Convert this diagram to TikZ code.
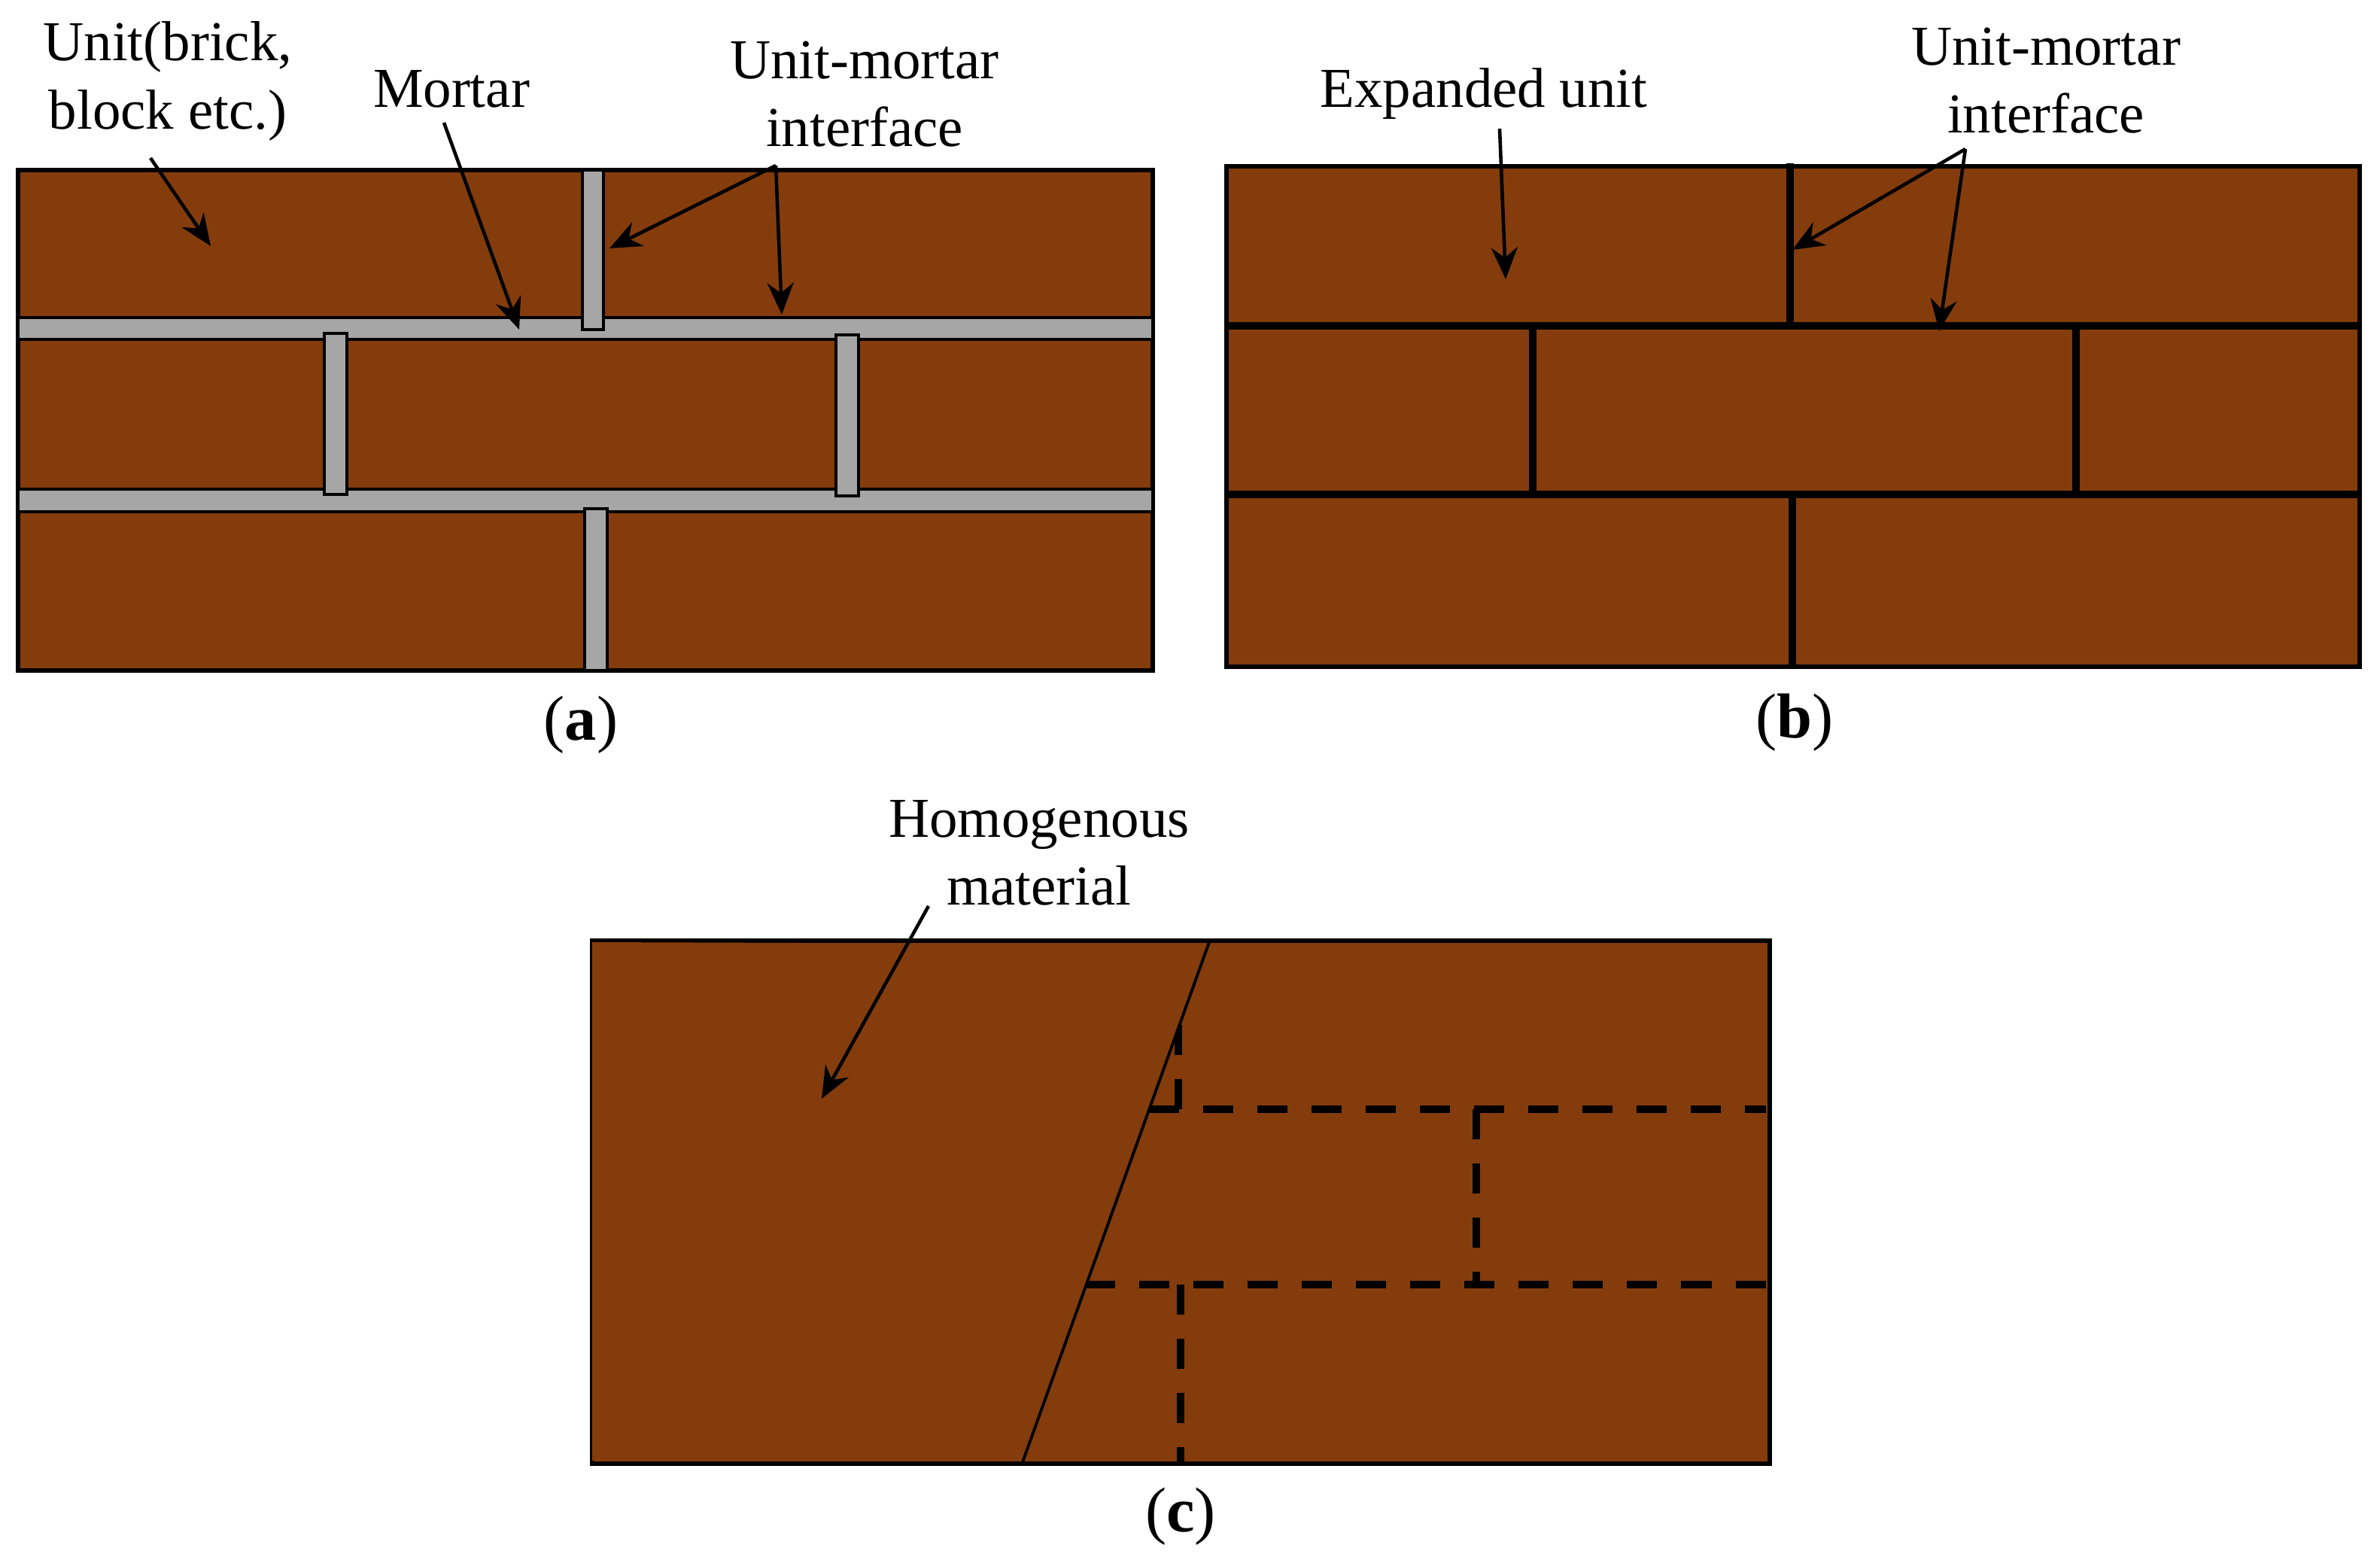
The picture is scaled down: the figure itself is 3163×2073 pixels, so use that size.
\documentclass[tikz,border=0pt]{standalone}
\usepackage{fontspec}
\setmainfont{Liberation Serif}
\usepackage{tikz}
\usetikzlibrary{arrows.meta}
\definecolor{BrickBrown}{RGB}{132,60,12}
\definecolor{MortarGray}{RGB}{166,166,166}
\tikzset{
  wall/.style={draw=black,fill=BrickBrown,line width=1.5pt},
  mortar/.style={draw=black,fill=MortarGray,line width=0.9pt},
  joint/.style={draw=black,line width=2.8pt},
  hiddenjoint/.style={draw=black,line width=3pt,dash pattern=on 0.4cm off 0.32cm},
  pointer/.style={draw=black,line width=1.3pt,-{Stealth[length=12pt,width=10pt]}},
  tag/.style={align=center,inner sep=0pt,font=\fontsize{21.3}{25.6}\selectfont},
  caption/.style={inner sep=0pt,font=\fontsize{24}{28}\selectfont},
}

\begin{document}
\begin{tikzpicture}[x=0.01cm,y=-0.01cm]
  \useasboundingbox (0,0) rectangle (3163,2073);

  % Left: units and mortar drawn apart.
  \draw[wall] (24,226) rectangle (1532,891);
  \foreach \ya/\yb in {422/451,650/680}
    \draw[mortar] (24,\ya) rectangle (1532,\yb);
  \foreach \xa/\ya/\xb/\yb in {774/226/802/438,431/443/461/657,1111/445/1141/659,777/676/807/891}
    \draw[mortar] (\xa,\ya) rectangle (\xb,\yb);

  \node[tag] (unitLabel) at (223,108) {Unit(brick,\\block etc.)};
  \node[tag] (mortarLabel) at (600,118) {Mortar};
  \node[tag] (ifaceLabelA) at (1149,125) {Unit-mortar\\interface};
  \node[caption] (capA) at (772,963) {(\textbf{a})};

  % Right: expanded units, joints reduced to lines.
  \draw[wall] (1630,221) rectangle (3136,886);
  \foreach \ya in {433,657}
    \draw[joint] (1630,\ya) -- (3136,\ya);
  \foreach \xa/\ya/\yb in {2379/217/433,2037/433/657,2759/433/657,2382/657/886}
    \draw[joint] (\xa,\ya) -- (\xa,\yb);

  \node[tag] (expandLabel) at (1972,124) {Expanded unit};
  \node[tag] (ifaceLabelB) at (2719,107) {Unit-mortar\\interface};
  \node[caption] (capB) at (2385,960) {(\textbf{b})};

  % Bottom: homogenised part over the dashed pattern.
  \draw[wall] (787,1250) rectangle (2352,1945);
  \foreach \xa/\ya/\xb/\yb in {1527/1474/2347/1474,1442/1707/2347/1707,1566/1362/1566/1474,1962/1474/1962/1707,1569/1707/1569/1945}
    \draw[hiddenjoint] (\xa,\ya) -- (\xb,\yb);
  \fill[BrickBrown] (787,1252) -- (1607,1255) -- (1359,1941) -- (787,1941) -- cycle;
  \coordinate (slantTop) at (1607,1252);
  \coordinate (slantBot) at (1359,1943);
  \draw[black,line width=1.1pt] (slantTop) -- (slantBot);

  \node[tag] (homoLabel) at (1381,1133) {Homogenous\\material};
  \node[caption] (capC) at (1569,2015) {(\textbf{c})};

  % arrow ends
  \foreach \n/\x/\y in {a1/200/210,a2/280/327,b1/590/163,b2/690/438,c1/1031/220,c2/810/330,c3/1039/418,
      d1/1993/171,d2/2001/371,e1/2612/198,e2/2382/332,e3/2577/440,f1/1234/1204,f2/1092/1460}
    \coordinate (\n) at (\x,\y);
  \foreach \i/\j in {a1/a2,b1/b2,c1/c2,c1/c3,d1/d2,e1/e2,e1/e3,f1/f2}
    \draw[pointer] (\i)--(\j);
\end{tikzpicture}
\end{document}
